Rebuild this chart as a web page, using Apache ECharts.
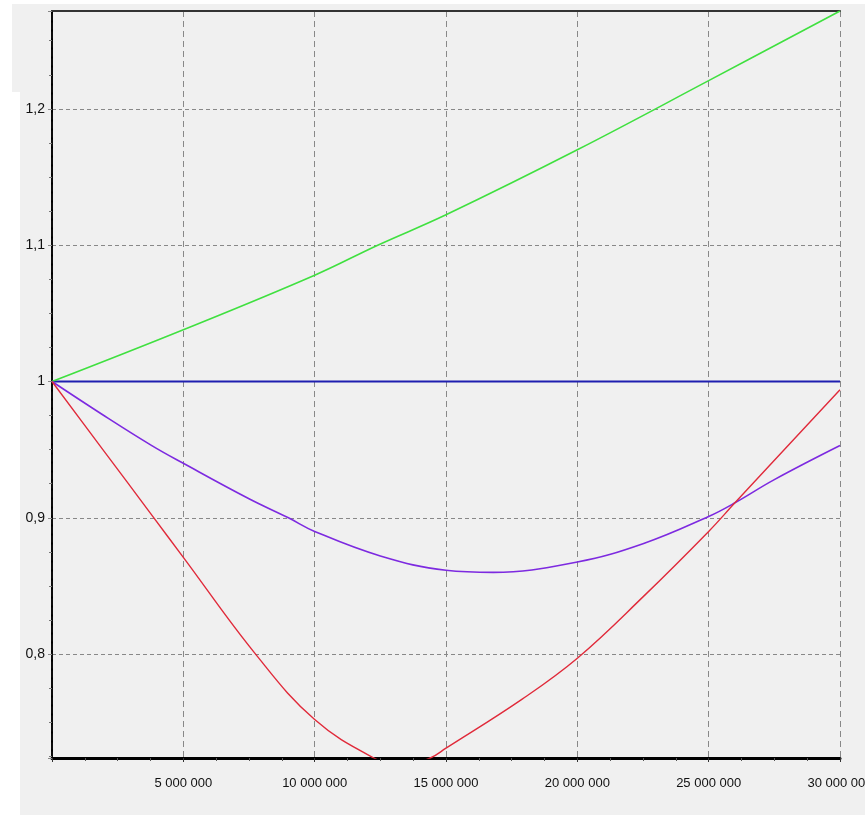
<!DOCTYPE html>
<html>
<head>
<meta charset="utf-8">
<script src="https://cdn.jsdelivr.net/npm/echarts@6/dist/echarts.min.js"></script>
<style>
  body { margin: 0; background: #fff; }
  #bg1 { position: absolute; left: 20px; top: 4px; width: 845px; height: 811px; background: #f0f0f0; }
  #bg2 { position: absolute; left: 12px; top: 4px; width: 10px; height: 88px; background: #f0f0f0; }
  #main { position: absolute; left: 0; top: 0; width: 865px; height: 815px; }
</style>
</head>
<body>
<div id="bg1"></div>
<div id="bg2"></div>
<div id="main"></div>
<script>
// axis range
var xMin = 0, xMax = 30000000, xStep = 5000000;
var yMin = 0.7238, yMax = 1.2718;

// [x, value] pairs for each curve
var bluePoints = [[0, 1], [30000000, 1]];
var greenPoints = [
  [0, 1], [5000000, 1.038], [10000000, 1.078], [12400000, 1.1], [15000000, 1.1223],
  [20000000, 1.170], [25000000, 1.2207], [30000000, 1.2718]
];
var purplePoints = [
  [0, 1], [1900000, 0.976], [3800000, 0.953], [5000000, 0.940], [7500000, 0.914],
  [9000000, 0.900], [10000000, 0.890], [12500000, 0.872], [15000000, 0.8615],
  [16800000, 0.860], [20000000, 0.8676], [22500000, 0.881],
  [25000000, 0.901], [26000000, 0.911], [27500000, 0.928], [30000000, 0.953]
];
var redPoints = [
  [0, 1], [1900000, 0.951], [3800000, 0.902], [5000000, 0.871], [7750000, 0.800],
  [10000000, 0.752], [12260000, 0.7238], [13300000, 0.718], [14400000, 0.7238],
  [15000000, 0.731], [17900000, 0.767], [20000000, 0.797], [22500000, 0.842],
  [25000000, 0.890], [26000000, 0.911], [30000000, 0.994]
];

var labelFont = "'Liberation Sans', Arial, sans-serif";

function spaced(v) {
  return String(Math.round(v)).replace(/\B(?=(\d{3})+(?!\d))/g, ' ');
}

function line(name, pts, color, w) {
  return {
    name: name,
    type: 'line',
    data: pts,
    showSymbol: false,
    smooth: 0.4,
    clip: true,
    lineStyle: { color: color, width: w },
    emphasis: { disabled: true }
  };
}

var myChart = echarts.init(document.getElementById('main'));
myChart.setOption({
  animation: false,
  backgroundColor: 'transparent',
  grid: { left: 52, top: 11, width: 788, height: 747, containLabel: false, outerBoundsMode: 'none' },
  xAxis: [{
    type: 'value', min: xMin, max: xMax, interval: xStep,
    axisLine: { lineStyle: { color: '#000', width: 3 } },
    axisTick: { length: 4, lineStyle: { color: '#333' } },
    minorTick: { show: true, splitNumber: 4, length: 3, lineStyle: { color: '#555' } },
    axisLabel: {
      showMinLabel: false, margin: 19, color: '#111', fontSize: 13, fontFamily: labelFont,
      formatter: spaced
    },
    splitLine: { show: true, lineStyle: { color: '#888', type: [6, 4], width: 1 } }
  }, {
    type: 'value', position: 'top', min: xMin, max: xMax,
    axisLine: { lineStyle: { color: '#333', width: 2 } },
    axisTick: { show: false }, axisLabel: { show: false }, splitLine: { show: false }
  }],
  yAxis: [{
    type: 'value', min: yMin, max: yMax, splitNumber: 5,
    axisLine: { show: true, lineStyle: { color: '#000', width: 2 } },
    axisTick: { length: 4, lineStyle: { color: '#888' } },
    minorTick: { show: true, splitNumber: 4, length: 3, lineStyle: { color: '#777' } },
    axisLabel: {
      showMinLabel: false, showMaxLabel: false, margin: 7, color: '#111', fontSize: 14, fontFamily: labelFont,
      formatter: function (v) { return String(Math.round(v * 10) / 10).replace('.', ','); }
    },
    splitLine: { show: true, lineStyle: { color: '#888', type: [4, 3], width: 1 } }
  }, {
    type: 'value', position: 'right', min: yMin, max: yMax,
    axisLine: { show: true, lineStyle: { color: '#111', width: 1.5, type: [6, 3] } },
    axisTick: { show: false }, axisLabel: { show: false }, splitLine: { show: false }
  }],
  series: [
    line('blue', bluePoints, '#1f1fb0', 1.8),
    line('green', greenPoints, '#40e040', 1.6),
    line('purple', purplePoints, '#7d2ae0', 1.6),
    line('red', redPoints, '#e02a3a', 1.4)
  ]
});
</script>
</body>
</html>
